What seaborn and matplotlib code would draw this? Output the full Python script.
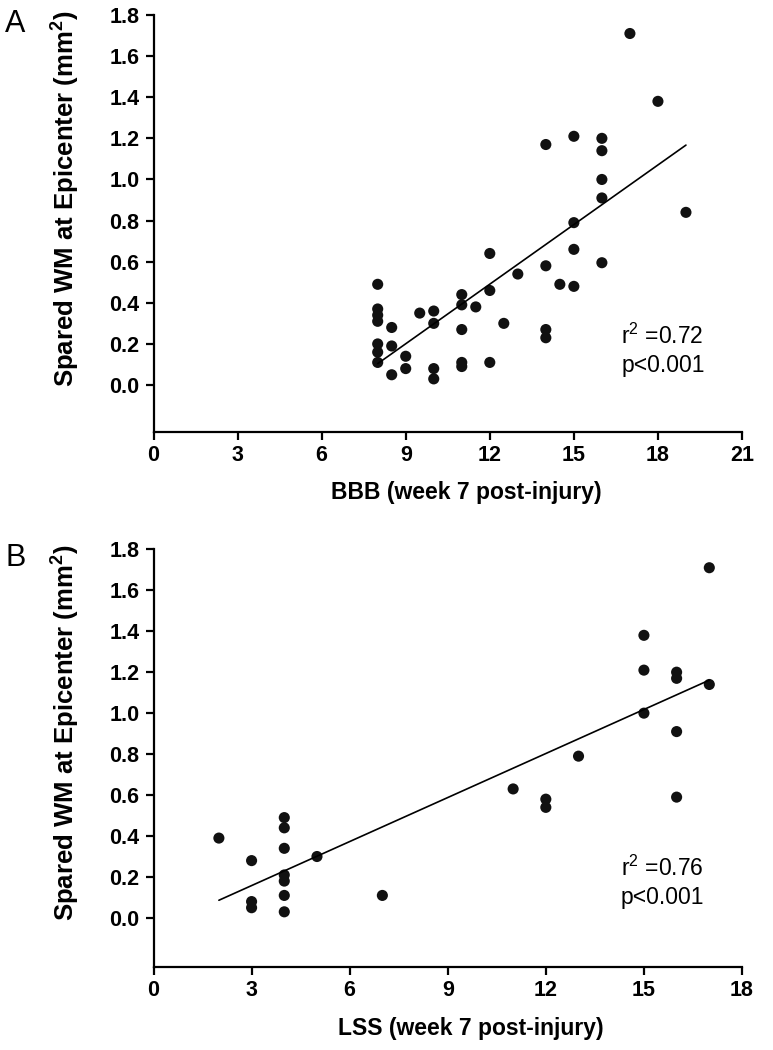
import matplotlib
matplotlib.use("Agg")
import matplotlib.pyplot as plt
import seaborn as sns
import pandas as pd

# Panel A: BBB vs spared white matter
bbb_x = [8, 8, 8, 8, 8, 8, 8,
         8.5, 8.5, 8.5,
         9, 9,
         9.5,
         10, 10, 10, 10,
         11, 11, 11, 11, 11,
         11.5,
         12, 12, 12,
         12.5,
         13,
         14, 14, 14, 14,
         14.5,
         15, 15, 15, 15,
         16, 16, 16, 16, 16,
         17, 18, 19]
bbb_y = [0.49, 0.37, 0.34, 0.31, 0.20, 0.16, 0.11,
         0.28, 0.19, 0.05,
         0.14, 0.08,
         0.35,
         0.36, 0.30, 0.08, 0.03,
         0.44, 0.39, 0.27, 0.11, 0.09,
         0.38,
         0.64, 0.46, 0.11,
         0.30,
         0.54,
         1.17, 0.58, 0.27, 0.23,
         0.49,
         1.21, 0.79, 0.66, 0.48,
         1.20, 1.14, 1.00, 0.91, 0.595,
         1.71, 1.38, 0.84]

# Panel B: LSS vs spared white matter
lss_x = [2, 3, 3, 3,
         4, 4, 4, 4, 4, 4, 4,
         5, 7, 11, 12, 12, 13,
         15, 15, 15,
         16, 16, 16, 16,
         17, 17]
lss_y = [0.39, 0.28, 0.08, 0.05,
         0.49, 0.44, 0.34, 0.21, 0.18, 0.11, 0.03,
         0.30, 0.11, 0.63, 0.58, 0.54, 0.79,
         1.38, 1.21, 1.00,
         1.20, 1.17, 0.91, 0.59,
         1.71, 1.14]

stats_a = ["0.72", "p<0.001"]
stats_b = ["0.76", "p<0.001"]
ylab = "Spared WM at Epicenter (mm$^{2}$)"
yticks = [0.0, 0.2, 0.4, 0.6, 0.8, 1.0, 1.2, 1.4, 1.6, 1.8]

sns.set_theme(style="ticks")
plt.rcParams['font.family'] = ['Liberation Sans', 'DejaVu Sans']
plt.rcParams['mathtext.default'] = 'regular'
plt.rcParams['text.color'] = 'black'
plt.rcParams['axes.labelcolor'] = 'black'

W, H = 773, 1050
fig = plt.figure(figsize=(W / 100, H / 100), dpi=100)

L, R = 153.5, 742.0

def px_axes(l, r, t, b):
    return fig.add_axes([l / W, 1 - b / H, (r - l) / W, (b - t) / H])

axA = px_axes(L, R, 15, 431.5)
axB = px_axes(L, R, 549.3, 966.5)

dfA = pd.DataFrame({"x": bbb_x, "y": bbb_y})
dfB = pd.DataFrame({"x": lss_x, "y": lss_y})

panels = [
    (axA, dfA, 21, -0.226, "BBB (week 7 post-injury)", "A", stats_a, 16.7, (0.235, 0.097), 0.531),
    (axB, dfB, 18, -0.237, "LSS (week 7 post-injury)", "B", stats_b, 14.3, (0.244, 0.098), 0.540),
]

for ax, df, xmax, ymin, xlabel, letter, stats, tx, ty, xlab_x in panels:
    sns.regplot(data=df, x="x", y="y", ax=ax, ci=None,
                scatter_kws=dict(s=64, color="#111111", edgecolor="none", alpha=1),
                line_kws=dict(color="black", lw=1.2))
    ax.set_xlim(0, xmax)
    ax.set_ylim(ymin, 1.8)
    ax.set_xticks(range(0, xmax + 1, 3))
    ax.set_yticks(yticks)
    ax.set_yticklabels([f"{v:.1f}" for v in yticks])
    for s in ["top", "right"]:
        ax.spines[s].set_visible(False)
    for s in ["left", "bottom"]:
        ax.spines[s].set_linewidth(1.6)
        ax.spines[s].set_color("black")
    ax.tick_params(axis="both", direction="out", length=6, width=1.6,
                   labelsize=15.5, colors="black", pad=4)
    for lab in ax.get_xticklabels() + ax.get_yticklabels():
        lab.set_fontweight("bold")

    bbox_h = ax.get_position().height * H
    ax.set_xlabel(xlabel, fontsize=16.5, fontweight="bold", color="black")
    ax.xaxis.set_label_coords(xlab_x, -50 / bbox_h)
    ax.set_ylabel(ylab, fontsize=18.5, fontweight="bold", color="black")
    ax.yaxis.set_label_coords((82 - L) / (R - L), 0.56)

    ax.text((5 - L) / (R - L), 1.0 + 6 / bbox_h, letter, transform=ax.transAxes,
            fontsize=22, ha="left", va="top", color="black")
    ax.text(tx, ty[0], "r$^{2}$ =" + stats[0], fontsize=16.5, ha="left", va="center",
            color="black")
    ax.text(tx, ty[1], stats[1], fontsize=16.5, ha="left", va="center", color="black")

fig.savefig("out.png", dpi=100)
